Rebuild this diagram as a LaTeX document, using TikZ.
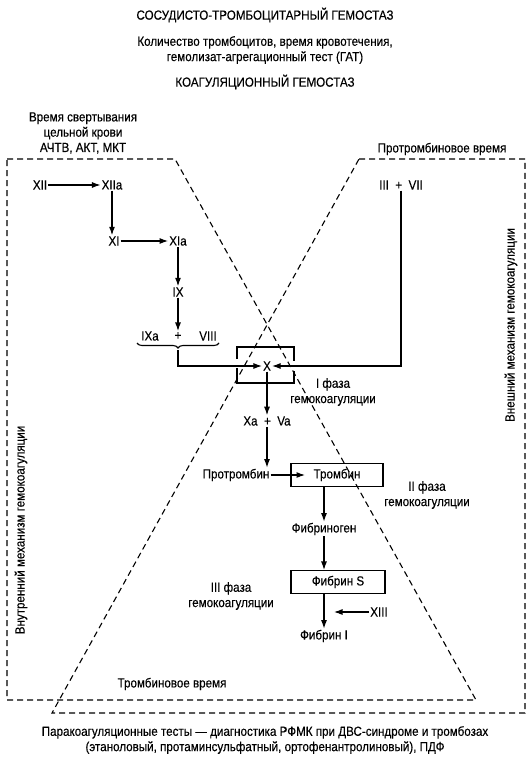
\documentclass[tikz,border=0pt]{standalone}
\usepackage{fontspec}
\setmainfont[FakeStretch=0.88,FakeBold=0.3]{Liberation Sans}
\usetikzlibrary{arrows.meta,decorations.pathreplacing,calc}
\begin{document}
\begin{tikzpicture}[x=1pt,y=-1pt,
  font=\fontsize{13.2}{15.3}\selectfont,
  every node/.style={inner sep=1pt},
  arr/.style={-{Latex[length=8.5pt,width=6pt]}, line width=1.1pt},
  ln/.style={line width=1.1pt},
  dsh/.style={line width=1.1pt, dash pattern=on 6pt off 4pt},
  boxn/.style={draw, line width=1.1pt, minimum height=23pt, inner sep=2pt}]
\useasboundingbox (0,0) rectangle (531,759);
% titles
\node (t1) at (265,15) {СОСУДИСТО-ТРОМБОЦИТАРНЫЙ ГЕМОСТАЗ};
\node[align=center] (t2) at (265,50) {Количество тромбоцитов, время кровотечения,\\гемолизат-агрегационный тест (ГАТ)};
\node (t3) at (265,82) {КОАГУЛЯЦИОННЫЙ ГЕМОСТАЗ};
\node[align=center] (vsv) at (83,133) {Время свертывания\\цельной крови\\АЧТВ, АКТ, МКТ};
\node (ptv) at (442,149) {Протромбиновое время};
% dashed regions
\draw[dsh] (7,159) -- (175,159) -- (476,700) -- (7,700) -- cycle;
\draw[dsh] (359,159) -- (525,159) -- (525,713) -- (52,713) -- cycle;
\node[rotate=90] (inner) at (21,530) {Внутренний механизм гемокоагуляции};
\node[rotate=90] (outer) at (511,325) {Внешний механизм гемокоагуляции};
\node (tv) at (172,684) {Тромбиновое время};
% intrinsic cascade
\node (XII) at (40,185) {XII};
\node (XIIa) at (112,185) {XIIa};
\node (XI) at (114,241) {XI};
\node (XIa) at (178,241) {XIa};
\node (IX) at (178,292) {IX};
\node (IXa) at (150,336) {IXa};
\node (pl1) at (178,336) {+};
\node (VIII) at (208,336) {VIII};
\draw[arr] (XII) -- (XIIa);
\draw[arr] (XIIa.south) -- (XIIa.south |- XI.north);
\draw[arr] (XI) -- (XIa);
\draw[arr] (XIa) -- (IX);
\draw[arr] (IX) -- (pl1);
\draw[ln, decorate, decoration={brace, mirror, amplitude=5pt}] (137,343) -- (219,343);
\coordinate (brtip) at (178,350);
% extrinsic
\node (III) at (401,185) {III\ \ +\ \ VII};
% X
\node (X) at (267,366) {X};
\draw[arr] (brtip) -- (brtip |- X) -- (X.west);
\draw[arr] (III.south) -- (III.south |- X) -- (X.east);
\draw[ln] (237,359) -- (237,347) -- (294,347) -- (294,361);
\draw[ln] (237,368) -- (237,383) -- (294,383) -- (294,371);
\node[align=center] (ph1) at (333,392) {I фаза\\гемокоагуляции};
\node (XaVa) at (267,421) {Xa\ \ +\ \ Va};
\draw[arr] (X.south) -- (XaVa.north);
\node (prot) at (236,475) {Протромбин};
\node[boxn, minimum width=92pt] (tromb) at (337,475) {Тромбин};
\coordinate (trombin) at (305,475);
\draw[arr] (XaVa.south) -- (XaVa.south |- prot.north);
\draw[arr] (prot.east) -- (trombin);
\node[align=center] (ph2) at (427,495) {II фаза\\гемокоагуляции};
\node (fibg) at (324,529) {Фибриноген};
\draw[arr] (fibg.north |- tromb.south) -- (fibg.north);
\node[boxn, minimum width=94pt] (fibS) at (338,582) {Фибрин S};
\draw[arr] (fibg.south) -- (fibg.south |- fibS.north);
\node[align=center] (ph3) at (231,596) {III фаза\\гемокоагуляции};
\node (fibI) at (324,636) {Фибрин I};
\draw[arr] (fibI.north |- fibS.south) -- (fibI.north);
\node (XIII) at (379,612) {XIII};
\coordinate (xiiitip) at (334,612);
\draw[arr] (XIII.west) -- (xiiitip);
% bottom text
\node[align=center] (bot) at (265,740) {Паракоагуляционные тесты — диагностика РФМК при ДВС-синдроме и тромбозах\\(этаноловый, протаминсульфатный, ортофенантролиновый), ПДФ};
\end{tikzpicture}
\end{document}
